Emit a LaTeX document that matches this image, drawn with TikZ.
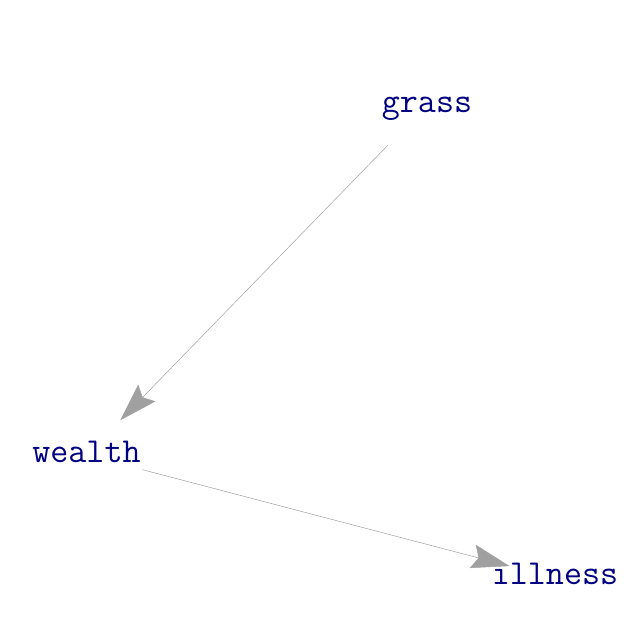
\documentclass[tikz,border=0pt]{standalone}
\usetikzlibrary{arrows.meta}
\definecolor{vlab}{RGB}{0,0,128}
\definecolor{egray}{RGB}{160,160,160}
\tikzset{
  lab/.style={font=\fontsize{35}{35}\selectfont\ttfamily, text=vlab, inner sep=0pt, anchor=base},
  edge/.style={draw=egray, line width=0.5pt, -{Stealth[length=38pt,width=24pt,inset=6pt,fill=egray]}}
}
\begin{document}
\begin{tikzpicture}[x=1pt,y=1pt]
\useasboundingbox (0,0) rectangle (624,625);
\coordinate (g) at (427,520);
\coordinate (w) at (86.5,170);
\coordinate (i) at (555,47);
\node[lab] (grass) at (427,512) {grass};
\node[lab] (wealth) at (86.5,162.3) {wealth};
\node[lab] (illness) at (555,40) {illness};
\draw[edge, shorten <=56pt, shorten >=48.5pt] (g) -- (w);
\draw[edge, shorten <=57.8pt, shorten >=47pt] (w) -- (i);
\end{tikzpicture}
\end{document}
